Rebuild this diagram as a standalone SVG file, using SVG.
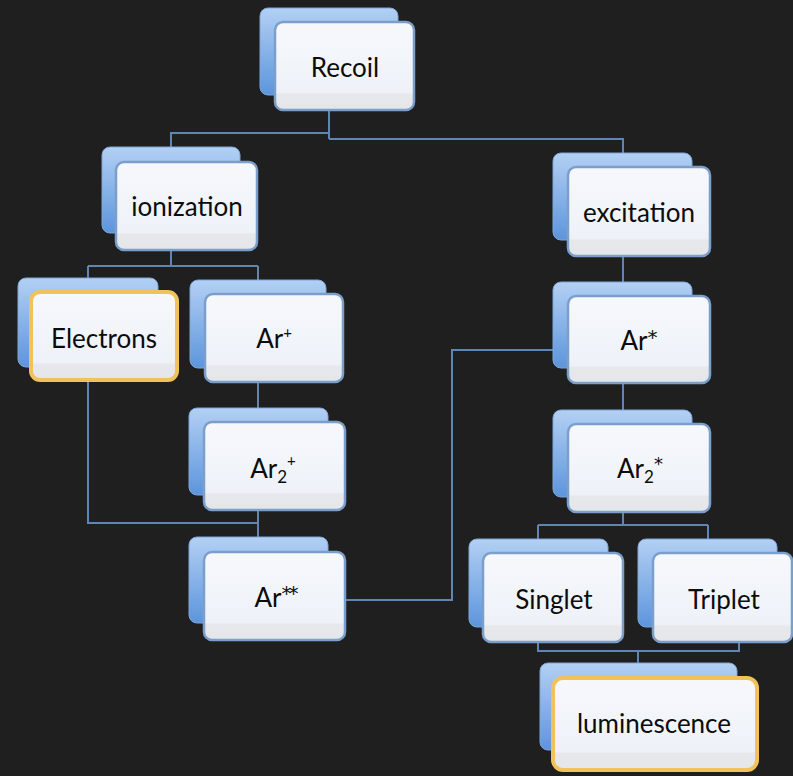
<svg xmlns="http://www.w3.org/2000/svg" width="793" height="776" viewBox="0 0 793 776">
<defs>
<linearGradient id="gBack" x1="0" y1="0" x2="0" y2="1">
<stop offset="0" stop-color="#b3d0f4"/>
<stop offset="1" stop-color="#5c95dc"/>
</linearGradient>
<linearGradient id="gFront" x1="0" y1="0" x2="0" y2="1">
<stop offset="0" stop-color="#f6f8fc"/>
<stop offset="0.8" stop-color="#eef2f8"/>
<stop offset="0.82" stop-color="#e6e8ec"/>
<stop offset="1" stop-color="#e4e6ea"/>
</linearGradient>
<style>
.back{fill:url(#gBack);stroke:#7fa6d6;stroke-width:1}
.front{fill:url(#gFront);stroke:#7b9fca;stroke-width:2.5}
.hl{stroke:#f2c25a;stroke-width:4}
.lbl{font-family:Lato,"Open Sans","Liberation Sans",sans-serif;font-size:26px;fill:#0c0c0c;text-anchor:middle}
.ast{font-family:"DejaVu Sans",sans-serif}
.conn{fill:none;stroke:#5f86b3;stroke-width:2}
</style>
</defs>
<rect width="793" height="776" fill="#1f1f1f"/>
<g id="connectors">
<path class="conn" d="M329,110 V139 M329,133 H171 V147 M329,139 H623 V153"/>
<path class="conn" d="M171,250 V266 M88,266 H258 M88,266 V278 M258,266 V280"/>
<path class="conn" d="M258,382 V408 M258,510 V537 M88,380 V523 H258"/>
<path class="conn" d="M345,600 H452 V350 H553"/>
<path class="conn" d="M623,256 V282 M623,383 V410 M623,512 V525 M538,525 H708 M538,525 V539 M708,525 V539"/>
<path class="conn" d="M538,642 V651 H739 V642 M638,651 V663"/>
</g>
<g id="recoil">
<rect class="back" x="260" y="8" width="138" height="87" rx="8"/>
<rect class="front" x="275" y="22" width="139" height="88" rx="8"/>
<text class="lbl" x="345" y="77">Recoil</text>
</g>
<g id="ionization">
<rect class="back" x="102" y="147" width="138" height="86" rx="8"/>
<rect class="front" x="116" y="162" width="141" height="88" rx="8"/>
<text class="lbl" x="187" y="216">ionization</text>
</g>
<g id="excitation">
<rect class="back" x="553" y="153" width="139" height="87" rx="8"/>
<rect class="front" x="568" y="167" width="142" height="89" rx="8"/>
<text class="lbl" x="639" y="222">excitation</text>
</g>
<g id="electrons">
<rect class="back" x="18" y="278" width="140" height="89" rx="8"/>
<rect class="front hl" x="31" y="292" width="146" height="88" rx="9"/>
<text class="lbl" x="104" y="348">Electrons</text>
</g>
<g id="ar-plus">
<rect class="back" x="190" y="280" width="136" height="88" rx="8"/>
<rect class="front" x="205" y="294" width="138" height="88" rx="8"/>
<text class="lbl" x="274" y="348">Ar<tspan font-size="15" dy="-10">+</tspan></text>
</g>
<g id="ar2-plus">
<rect class="back" x="189" y="408" width="139" height="87" rx="8"/>
<rect class="front" x="204" y="422" width="141" height="88" rx="8"/>
<text class="lbl" x="273" y="478">Ar<tspan font-size="17" dy="5">2</tspan><tspan font-size="15" dy="-17">+</tspan></text>
</g>
<g id="ar-starstar">
<rect class="back" x="189" y="537" width="139" height="86" rx="8"/>
<rect class="front" x="204" y="552" width="141" height="88" rx="8"/>
<text class="lbl" x="275" y="607">Ar<tspan class="ast" font-size="20" dy="-7" letter-spacing="-3">**</tspan></text>
</g>
<g id="ar-star">
<rect class="back" x="553" y="282" width="139" height="86" rx="8"/>
<rect class="front" x="568" y="296" width="142" height="87" rx="8"/>
<text class="lbl" x="639" y="350">Ar<tspan class="ast" font-size="20" dy="-6">*</tspan></text>
</g>
<g id="ar2-star">
<rect class="back" x="553" y="410" width="139" height="87" rx="8"/>
<rect class="front" x="568" y="424" width="142" height="88" rx="8"/>
<text class="lbl" x="640" y="478">Ar<tspan font-size="17" dy="5">2</tspan><tspan class="ast" font-size="18" dy="-13">*</tspan></text>
</g>
<g id="singlet">
<rect class="back" x="469" y="539" width="139" height="88" rx="8"/>
<rect class="front" x="483" y="553" width="140" height="89" rx="8"/>
<text class="lbl" x="554" y="609">Singlet</text>
</g>
<g id="triplet">
<rect class="back" x="638" y="539" width="139" height="88" rx="8"/>
<rect class="front" x="653" y="553" width="139" height="89" rx="8"/>
<text class="lbl" x="724" y="609">Triplet</text>
</g>
<g id="luminescence">
<rect class="back" x="540" y="663" width="197" height="87" rx="8"/>
<rect class="front hl" x="553" y="678" width="204" height="92" rx="10"/>
<text class="lbl" x="654" y="733">luminescence</text>
</g>
</svg>
